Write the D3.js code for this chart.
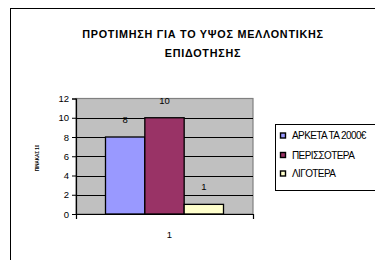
<!DOCTYPE html>
<html><head><meta charset="utf-8">
<script src="https://cdn.jsdelivr.net/npm/d3@7"></script>
<style>html,body{margin:0;padding:0;background:#fff;}svg{display:block;}</style>
</head><body>
<script>
const title = ["ΠΡΟΤΙΜΗΣΗ ΓΙΑ ΤΟ ΥΨΟΣ ΜΕΛΛΟΝΤΙΚΗΣ", "ΕΠΙΔΟΤΗΣΗΣ"];
const yAxisTitle = "ΠΙΝΑΚΑΣ 10";
const categories = ["1"];
const seriesNames = ["ΑΡΚΕΤΑ ΤΑ 2000€", "ΠΕΡΙΣΣΟΤΕΡΑ", "ΛΙΓΟΤΕΡΑ"];
const seriesValues = [8, 10, 1];
const seriesColors = ["#9999FF", "#993366", "#FFFFCC"];
const yTicks = [0, 2, 4, 6, 8, 10, 12];

const W = 375, H = 260;
const svg = d3.select("body").append("svg").attr("width", W).attr("height", H);
const font = "Arial, 'Liberation Sans', sans-serif";

// outer frame
svg.append("rect").attr("x", 10.5).attr("y", 8.5).attr("width", 400).attr("height", 300)
  .attr("fill", "#fff").attr("stroke", "#000").attr("stroke-width", 1);

// title
svg.append("g").selectAll("text").data(title).join("text")
  .attr("x", 203).attr("y", (d, i) => 37.5 + i * 19.5)
  .attr("text-anchor", "middle").attr("font-family", font)
  .attr("font-weight", "bold").attr("font-size", 10.8).attr("letter-spacing", 0.75)
  .attr("fill", "#000").text(d => d);

const pl = 76, pr = 253, pt = 98.5, pb = 214;
const y = d3.scaleLinear().domain([0, 12]).range([pb, pt]);
const x0 = d3.scaleBand().domain(categories).range([pl, pr]).paddingInner(0).paddingOuter(0);
const x1 = d3.scaleBand().domain(seriesNames).range([0, x0.bandwidth()]).paddingOuter(0.75).paddingInner(0);

// plot background
svg.append("rect").attr("x", pl).attr("y", pt).attr("width", pr - pl).attr("height", pb - pt)
  .attr("fill", "#C0C0C0").attr("stroke", "#808080").attr("stroke-width", 1.2);

// gridlines
svg.append("g").selectAll("line").data(yTicks.filter(t => t > 0 && t < 12)).join("line")
  .attr("x1", pl).attr("x2", pr).attr("y1", d => Math.round(y(d)) + 0.5).attr("y2", d => Math.round(y(d)) + 0.5)
  .attr("stroke", "#000").attr("stroke-width", 1);

// bars
const g = svg.append("g");
categories.forEach(c => {
  g.selectAll("rect.bar").data(seriesValues).join("rect").attr("class", "bar")
    .attr("x", (d, i) => x0(c) + x1(seriesNames[i]))
    .attr("y", d => y(d))
    .attr("width", x1.bandwidth())
    .attr("height", d => pb - y(d))
    .attr("fill", (d, i) => seriesColors[i])
    .attr("stroke", "#000").attr("stroke-width", 1.3);
  g.selectAll("text.lbl").data(seriesValues).join("text").attr("class", "lbl")
    .attr("x", (d, i) => x0(c) + x1(seriesNames[i]) + x1.bandwidth() / 2)
    .attr("y", d => y(d) - 14)
    .attr("text-anchor", "middle").attr("font-family", font).attr("font-size", 9.5)
    .attr("fill", "#000").text(d => d);
});

// y axis
const yAxis = d3.axisLeft(y).tickValues(yTicks).tickSize(4).tickPadding(3).tickFormat(d3.format("d"));
const ya = svg.append("g").attr("transform", `translate(${pl},0)`).call(yAxis);
ya.select(".domain").attr("stroke", "#000").attr("stroke-width", 1.2);
ya.selectAll("text").attr("font-family", font).attr("font-size", 9.5).attr("fill", "#000");
ya.selectAll(".tick line").attr("stroke", "#000");

// x axis
const xAxis = d3.axisBottom(d3.scaleLinear().domain([0, 1]).range([pl, pr])).tickValues([0, 1]).tickSize(5).tickFormat("");
const xa = svg.append("g").attr("transform", `translate(0,${pb})`).call(xAxis);
xa.select(".domain").attr("stroke", "#000").attr("stroke-width", 1.2);
xa.selectAll(".tick line").attr("stroke", "#000");
svg.append("g").selectAll("text").data(categories).join("text")
  .attr("x", c => x0(c) + x0.bandwidth() / 2 + 5).attr("y", 238)
  .attr("text-anchor", "middle").attr("font-family", font).attr("font-size", 9.5).attr("fill", "#000").text(d => d);

// y axis title
svg.append("text").attr("transform", "translate(39,158) rotate(-90)")
  .attr("text-anchor", "middle").attr("font-family", font).attr("font-size", 4.5)
  .attr("font-weight", "bold").attr("fill", "#000").text(yAxisTitle);

// legend
const lg = svg.append("g");
lg.append("rect").attr("x", 275.5).attr("y", 124.5).attr("width", 120).attr("height", 66)
  .attr("fill", "#fff").attr("stroke", "#000").attr("stroke-width", 1);
const rowsY = [135.5, 155, 173.5];
lg.selectAll("rect.sym").data(seriesNames).join("rect").attr("class", "sym")
  .attr("x", 280.5).attr("y", (d, i) => rowsY[i] - 2.5).attr("width", 5).attr("height", 5)
  .attr("fill", (d, i) => seriesColors[i]).attr("stroke", "#000").attr("stroke-width", 1.4);
lg.selectAll("text").data(seriesNames).join("text")
  .attr("x", 292).attr("y", (d, i) => rowsY[i] + 3.5)
  .attr("font-family", font).attr("font-size", 10).attr("letter-spacing", -0.6).attr("fill", "#000").text(d => d);
</script>
</body></html>
